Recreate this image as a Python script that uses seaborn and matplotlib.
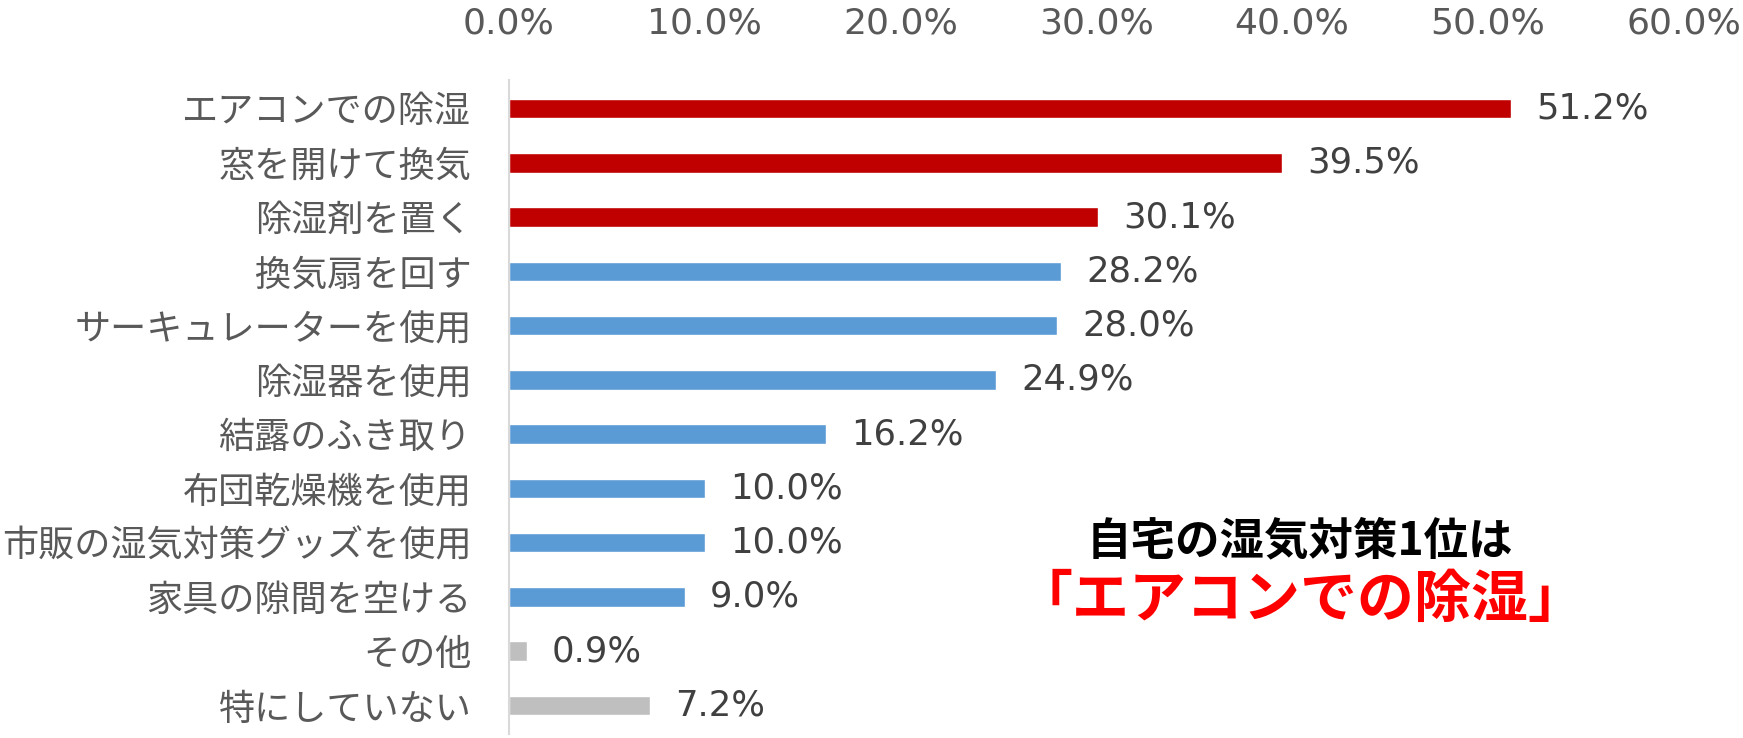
import matplotlib
matplotlib.use("Agg")
import matplotlib.pyplot as plt
import seaborn as sns
import pandas as pd

categories = ["エアコンでの除湿", "窓を開けて換気", "除湿剤を置く", "換気扇を回す",
              "サーキュレーターを使用", "除湿器を使用", "結露のふき取り", "布団乾燥機を使用",
              "市販の湿気対策グッズを使用", "家具の隙間を空ける", "その他", "特にしていない"]
values = [51.2, 39.5, 30.1, 28.2, 28.0, 24.9, 16.2, 10.0, 10.0, 9.0, 0.9, 7.2]
groups = ["top"] * 3 + ["other"] * 7 + ["none"] * 2
xticks = [0, 10, 20, 30, 40, 50, 60]
note_line1 = "自宅の湿気対策1位は"
note_line2 = "「エアコンでの除湿」"

sns.set_theme(style="white")
plt.rcParams['font.family'] = ['Noto Sans CJK JP', 'DejaVu Sans']
num_font = ['DejaVu Sans']

color_map = {"top": "#C00000", "other": "#5B9BD5", "none": "#BFBFBF"}
df = pd.DataFrame({"cat": categories, "val": values, "grp": groups})

fig = plt.figure(figsize=(17.43, 7.38), dpi=100)
ax = fig.add_axes([0.292, 0.005, 0.674, 0.887])

sns.barplot(data=df, x="val", y="cat", hue="grp", palette=color_map,
            dodge=False, legend=False, width=0.36, ax=ax, saturation=1)

for cont in ax.containers:
    ax.bar_label(cont, labels=[f"{v:.1f}%" for v in cont.datavalues],
                 padding=18, fontsize=25.5, color="#404040", family=num_font)

ax.set_xlim(0, 60)
ax.set_ylim(11.53, -0.53)
ax.set_xticks(xticks)
ax.set_xticklabels([f"{t:.1f}%" for t in xticks], family=num_font)
ax.xaxis.tick_top()
ax.tick_params(axis="x", labelsize=26, colors="#595959", pad=28, length=0)
ax.tick_params(axis="y", labelsize=26, colors="#595959", pad=27, length=0)
ax.set_xlabel("")
ax.set_ylabel("")
for s in ["top", "right", "bottom"]:
    ax.spines[s].set_visible(False)
ax.spines["left"].set_color("#D9D9D9")
ax.spines["left"].set_linewidth(1.5)

fig.text(0.746, 0.267, note_line1, ha="center", va="center", fontsize=32,
         fontweight="bold", color="black")
fig.text(0.746, 0.187, note_line2, ha="center", va="center", fontsize=41,
         fontweight="bold", color="#FF0000")

fig.savefig("out.png", dpi=100)
